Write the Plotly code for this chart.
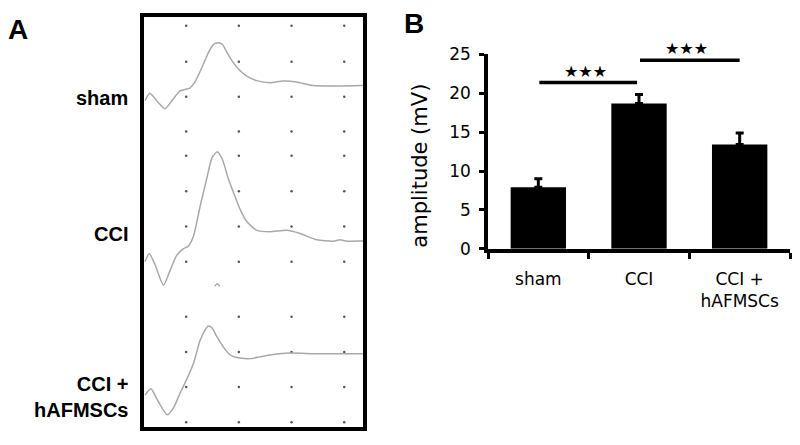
import plotly.graph_objects as go

# ---------------- Panel A data (time in divisions, voltage in divisions) ----------------
sham_t = [0.02, 0.11, 0.27, 0.40, 0.53, 0.68, 0.78, 0.87, 0.97, 1.10, 1.22, 1.32, 1.41, 1.49, 1.58,
          1.69, 1.82, 1.95, 2.14, 2.39, 2.64, 2.90, 3.21, 4.10, 4.16]
sham_v = [9.35, 9.56, 9.30, 9.12, 9.35, 9.62, 9.67, 9.71, 9.89, 10.30, 10.71, 10.95, 11.00, 10.95, 10.71,
          10.44, 10.21, 10.05, 9.92, 9.86, 9.91, 9.88, 9.78, 9.78, 9.78]

cci_t = [0.02, 0.10, 0.21, 0.37, 0.49, 0.62, 0.75, 0.84, 0.94, 1.06, 1.19, 1.29, 1.39, 1.49, 1.60,
         1.69, 1.82, 1.95, 2.14, 2.39, 2.71, 2.96, 3.28, 3.59, 3.72, 3.85, 4.10, 4.16]
cci_v = [4.77, 5.00, 4.68, 4.10, 4.50, 4.95, 5.14, 5.21, 5.50, 6.31, 7.13, 7.72, 7.90, 7.67, 7.13,
         6.77, 6.27, 5.91, 5.66, 5.62, 5.66, 5.57, 5.39, 5.35, 5.39, 5.35, 5.36, 5.36]

artifact_t = [1.34, 1.39, 1.44]
artifact_v = [4.07, 4.14, 4.07]

hafm_t = [0.02, 0.13, 0.27, 0.44, 0.56, 0.68, 0.81, 0.94, 1.06, 1.16, 1.22, 1.29, 1.38, 1.51, 1.63,
          1.76, 2.01, 2.20, 2.45, 2.77, 3.28, 4.10, 4.16]
hafm_v = [0.97, 1.15, 0.79, 0.41, 0.61, 1.01, 1.42, 1.88, 2.51, 2.83, 2.94, 2.89, 2.64, 2.33, 2.12,
          2.04, 2.01, 2.06, 2.13, 2.17, 2.15, 2.15, 2.15]

grid_cols = [0.8, 1.8, 2.8, 3.8]
grid_rows = [0.2, 1.2, 2.2, 3.2, 4.77, 5.77, 6.77, 7.78, 8.47, 9.46, 10.46, 11.48]

trace_labels = ["sham", "CCI", "CCI +<br>hAFMSCs"]

# ---------------- Panel B data ----------------
groups = ["sham", "CCI", "CCI +<br>hAFMSCs"]
amplitude = [7.9, 18.7, 13.4]
amplitude_err = [1.1, 1.15, 1.5]
sig_pairs = [(0, 1), (1, 2)]
sig_heights = [21.4, 24.25]
sig_text = ["★★★", "★★★"]
y_max = 25

W, H = 800, 445
fig = go.Figure()

# grid dots
gx, gy = [], []
for r in grid_rows:
    for c in grid_cols:
        gx.append(c)
        gy.append(r)
fig.add_trace(go.Scatter(x=gx, y=gy, mode="markers", xaxis="x", yaxis="y",
                         marker=dict(size=2.5, color="#555555"), hoverinfo="skip", showlegend=False))

line_style = dict(color="#a8a8a8", width=1.5, shape="spline", smoothing=0.6)
for t, v in [(sham_t, sham_v), (cci_t, cci_v), (hafm_t, hafm_v), (artifact_t, artifact_v)]:
    fig.add_trace(go.Scatter(x=t, y=v, mode="lines", xaxis="x", yaxis="y",
                             line=line_style, hoverinfo="skip", showlegend=False))

# bars
fig.add_trace(go.Bar(x=groups, y=amplitude, xaxis="x2", yaxis="y2", width=0.55,
                     marker=dict(color="black", line=dict(width=0)),
                     error_y=dict(type="data", array=amplitude_err, symmetric=False,
                                  arrayminus=[0, 0, 0], color="black", thickness=3, width=4),
                     showlegend=False))

fig.update_layout(
    width=W, height=H, margin=dict(l=0, r=0, t=0, b=0),
    paper_bgcolor="white", plot_bgcolor="white",
    xaxis=dict(domain=[144 / W, 363 / W], range=[0, 4.156], showgrid=False, zeroline=False,
               showticklabels=False, ticks="", showline=True, linewidth=4, linecolor="black",
               mirror=True),
    yaxis=dict(domain=[1 - 437 / H, 1 - 7 / H], range=[0.054, 11.74], showgrid=False,
               zeroline=False, showticklabels=False, ticks="", showline=True, linewidth=4,
               linecolor="black", mirror=True),
    xaxis2=dict(domain=[488 / W, 790 / W], type="category", range=[-0.5, 2.5],
                showgrid=False, zeroline=False, showline=True, linewidth=3.5, linecolor="black",
                ticks="outside", tickson="boundaries", ticklen=6, tickwidth=3, tickcolor="black",
                tickfont=dict(family="DejaVu Sans", size=17, color="black"),
                ticklabelstandoff=12, anchor="y2"),
    yaxis2=dict(domain=[1 - 250 / H, 1 - 46.5 / H], range=[0, y_max], tickvals=[0, 5, 10, 15, 20, 25],
                showgrid=False, zeroline=False, showline=True, linewidth=3.5, linecolor="black",
                ticks="outside", ticklen=5, tickwidth=3, tickcolor="black",
                tickfont=dict(family="DejaVu Sans", size=17, color="black"),
                ticklabelstandoff=5, anchor="x2"),
)

# significance lines & stars
for (a, b), h, s in zip(sig_pairs, sig_heights, sig_text):
    fig.add_shape(type="line", xref="x2", yref="y2", x0=a + 0.01, x1=b - 0.02 if a == 0 else b,
                  y0=h, y1=h, line=dict(color="black", width=3.5))
    fig.add_annotation(xref="x2", yref="y2 domain", x=(a + b) / 2 - 0.03, y=(h + 1.45) / y_max,
                       text=s, showarrow=False, yanchor="middle", xanchor="center",
                       font=dict(family="DejaVu Sans", size=16, color="black"))

# axis title B
fig.add_annotation(xref="paper", yref="paper", x=420 / W, y=1 - 163 / H, text="amplitude (mV)",
                   textangle=-90, showarrow=False, xanchor="center", yanchor="middle",
                   font=dict(family="DejaVu Sans", size=21, color="black"))

# panel letters
fig.add_annotation(xref="paper", yref="paper", x=6 / W, y=1 - 20 / H, text="<b>A</b>",
                   xanchor="left", yanchor="middle", showarrow=False,
                   font=dict(family="Liberation Sans", size=28, color="black"))
fig.add_annotation(xref="paper", yref="paper", x=402 / W, y=1 - 14 / H, text="<b>B</b>",
                   xanchor="left", yanchor="middle", showarrow=False,
                   font=dict(family="Liberation Sans", size=28, color="black"))

# trace labels
label_y = [92, 235, 405]
for lab, yy in zip(trace_labels, label_y):
    fig.add_annotation(xref="paper", yref="paper", x=130 / W, y=1 - yy / H, text="<b>" + lab + "</b>",
                       xanchor="right", yanchor="middle", align="right", showarrow=False,
                       font=dict(family="Liberation Sans", size=20, color="black"))

fig.write_html("out.html", config={"displayModeBar": False},
               post_script="document.body.style.margin='0';")
